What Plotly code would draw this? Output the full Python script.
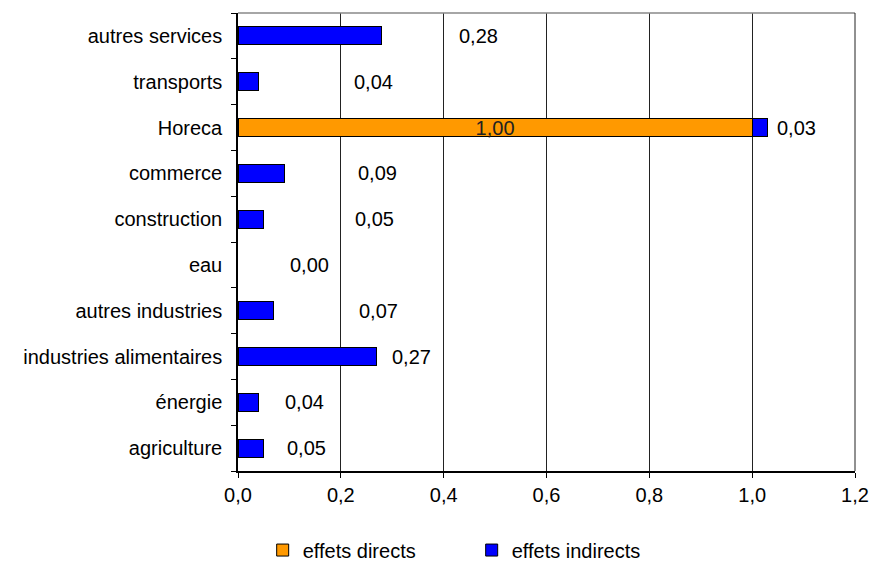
import plotly.graph_objects as go

# categories from bottom to top
categories = ["agriculture", "énergie", "industries alimentaires", "autres industries",
              "eau", "construction", "commerce", "Horeca", "transports", "autres services"]
direct = [0, 0, 0, 0, 0, 0, 0, 1.00, 0, 0]
indirect = [0.05, 0.04, 0.27, 0.07, 0.00, 0.05, 0.09, 0.03, 0.04, 0.28]
# x location (in data units) of the indirect-effect labels as placed in the original
label_x = [0.134, 0.130, 0.337, 0.274, 0.140, 0.265, 0.272, 1.087, 0.263, 0.467]
x_ticks = [0.0, 0.2, 0.4, 0.6, 0.8, 1.0, 1.2]

FONT = "Liberation Sans, Arial, Helvetica, sans-serif"
FS = 20

def fr(v):
    return f"{v:.2f}".replace(".", ",")

def nz(vals):
    # zero-length bars are not drawn in the original
    return [v if v > 0 else None for v in vals]

fig = go.Figure()
fig.add_trace(go.Bar(
    y=categories, x=nz(direct), orientation="h", name="effets directs",
    marker=dict(color="#FF9900", line=dict(color="black", width=1)),
    text=[fr(v) if v > 0 else "" for v in direct],
    textposition="inside", insidetextanchor="middle", constraintext="none",
    textfont=dict(family=FONT, size=FS, color="#222"),
    width=0.39,
))
fig.add_trace(go.Bar(
    y=categories, x=nz(indirect), orientation="h", name="effets indirects",
    marker=dict(color="#0000FF", line=dict(color="black", width=1)),
    width=0.39,
))

for c, v, lx in zip(categories, indirect, label_x):
    fig.add_annotation(x=lx, y=c, text=fr(v), showarrow=False,
                       xanchor="center", yanchor="middle",
                       font=dict(family=FONT, size=FS, color="black"))

fig.update_layout(
    barmode="stack",
    width=876, height=570,
    margin=dict(l=238, r=21, t=13, b=99, autoexpand=False),
    plot_bgcolor="white", paper_bgcolor="white",
    font=dict(family=FONT, size=FS, color="black"),
    showlegend=True,
    legend=dict(orientation="h", x=0.04, xanchor="left",
                yref="container", y=0.035, yanchor="middle",
                font=dict(family=FONT, size=FS), entrywidth=164, entrywidthmode="pixels",
                traceorder="normal"),
    xaxis=dict(range=[0, 1.2], tickvals=x_ticks,
               ticktext=[f"{t:.1f}".replace(".", ",") for t in x_ticks],
               showgrid=True, gridcolor="#222", gridwidth=1,
               showline=True, linecolor="black", linewidth=1.5, mirror=False,
               ticks="outside", ticklen=5, tickcolor="black", zeroline=False,
               ticklabelstandoff=0, automargin=False,
               tickfont=dict(family=FONT, size=FS)),
    yaxis=dict(categoryorder="array", categoryarray=categories,
               showline=True, linecolor="black", linewidth=1.5,
               ticks="outside", ticklen=5, tickcolor="black", tickson="boundaries",
               showgrid=False, ticklabelstandoff=10, automargin=False,
               tickfont=dict(family=FONT, size=FS)),
    bargap=0.6,
)
fig.add_shape(type="line", xref="paper", yref="paper", x0=0, x1=1, y0=1, y1=1,
              line=dict(color="#888", width=1.5))
fig.add_shape(type="line", xref="paper", yref="paper", x0=1, x1=1, y0=0, y1=1,
              line=dict(color="#222", width=1))

fig.write_html("out.html", config={"displayModeBar": False},
               post_script="document.body.style.margin='0';")
